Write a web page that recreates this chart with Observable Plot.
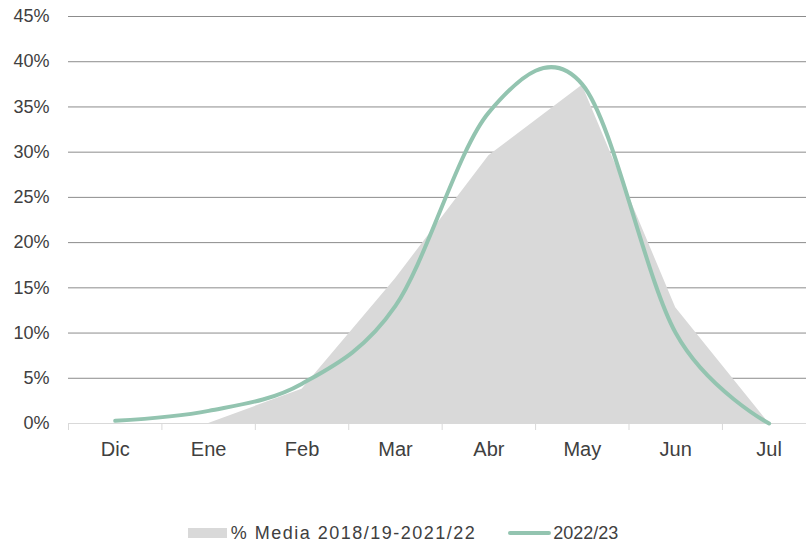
<!DOCTYPE html>
<html>
<head>
<meta charset="utf-8">
<script src="https://cdn.jsdelivr.net/npm/d3@7"></script>
<script src="https://cdn.jsdelivr.net/npm/@observablehq/plot@0.6"></script>
<style>
  html, body { margin: 0; padding: 0; background: #fff; }
  body { width: 806px; height: 546px; overflow: hidden; font-family: "Liberation Sans", Arial, sans-serif; color: #404040; }
  #legend { display: flex; justify-content: center; align-items: center; margin-top: 53px; height: 20px; font-size: 18px; }
  #legend .sw1 { display: inline-block; width: 39px; height: 10px; background: #d9d9d9; margin-right: 4px; }
  #legend .t1 { letter-spacing: 1.5px; margin-right: 32px; }
  #legend .sw2 { display: inline-block; width: 43px; height: 4px; border-radius: 2px; background: #93c4b0; margin-right: 2px; }
</style>
</head>
<body>
<div id="chart"></div>
<div id="legend"></div>
<script>
// Categories (x axis)
const months = ["Dic", "Ene", "Feb", "Mar", "Abr", "May", "Jun", "Jul"];
// Series values, in percent
const mediaValues = [0, 0, 3.8, 16, 29.6, 37.4, 12.8, 0];      // % Media 2018/19-2021/22
const season2223 = [0.3, 1.4, 4.4, 13, 34.4, 37.5, 10, 0];      // 2022/23
// Tick labels for the y axis (fractions)
const yTicks = [0, 0.05, 0.1, 0.15, 0.2, 0.25, 0.3, 0.35, 0.4, 0.45];
// Legend labels
const seriesNames = ["% Media 2018/19-2021/22", "2022/23"];

const data = months.map((m, i) => ({ i, m, media: mediaValues[i] / 100, s: season2223[i] / 100 }));
const idx = d3.range(months.length);

const chart = Plot.plot({
  width: 806,
  height: 470,
  marginLeft: 68,
  marginRight: 0,
  marginTop: 16,
  marginBottom: 47,
  x: { type: "linear", domain: [-0.5, 7.4], label: null },
  y: { domain: [0, 0.45], label: null },
  style: { fontFamily: "'Liberation Sans', Arial, sans-serif", color: "#404040", background: "#fff" },
  marks: [
    Plot.gridY(yTicks.filter(d => d > 0), { stroke: "#8c8c8c", strokeOpacity: 1 }),
    Plot.areaY(data, { x: "i", y: "media", fill: "#d9d9d9" }),
    Plot.ruleY([0], { stroke: "#d9d9d9" }),
    Plot.axisX(idx.map(i => i - 0.5), { tickSize: 7, stroke: "#d9d9d9", tickFormat: () => "", label: null }),
    Plot.axisX(idx, { tickSize: 0, tickPadding: 18, tickFormat: i => months[i], fontSize: 20, fill: "#404040", label: null }),
    Plot.axisY(yTicks, { tickSize: 0, tickPadding: 19, tickFormat: d3.format(".0%"), fontSize: 18, fill: "#404040", label: null }),
    Plot.lineY(data, { x: "i", y: "s", stroke: "#93c4b0", strokeWidth: 4, curve: "cardinal", strokeLinecap: "round" })
  ]
});
document.getElementById("chart").appendChild(chart);

const legend = document.getElementById("legend");
legend.innerHTML = `<span class="sw1"></span><span class="t1">${seriesNames[0]}</span><span class="sw2"></span><span class="t2">${seriesNames[1]}</span>`;
</script>
</body>
</html>
